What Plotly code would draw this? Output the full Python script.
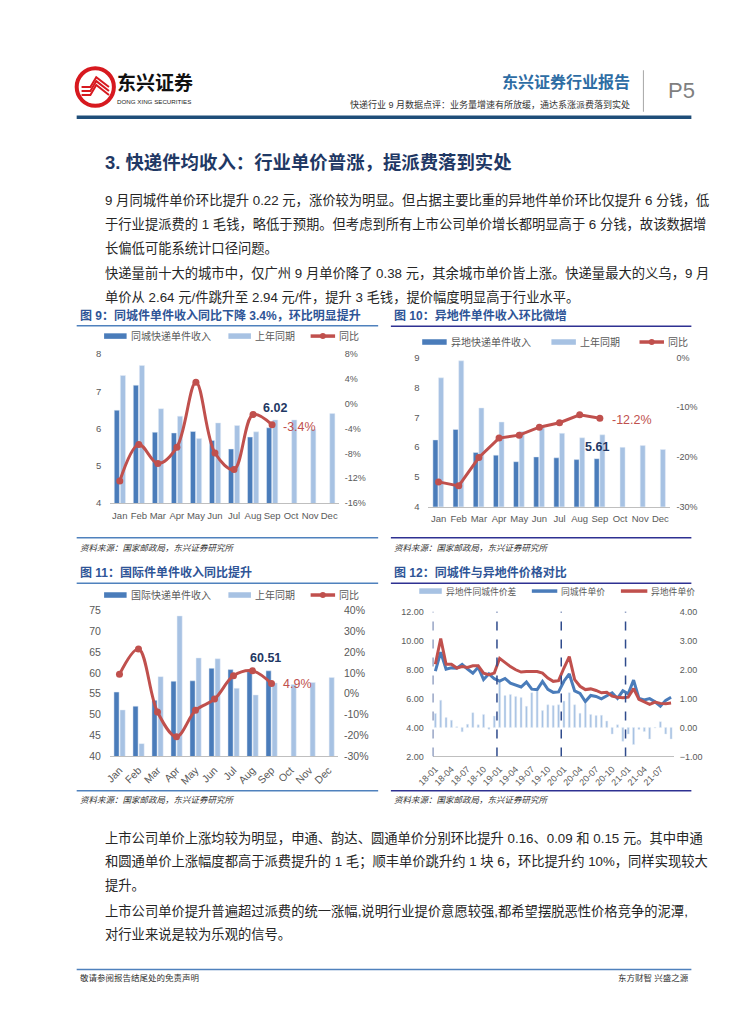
import plotly.graph_objects as go

W, H = 755, 1024


def X(p):
    return p / W


def Y(p):
    return 1 - p / H


# ---------------- data ----------------
months = ["Jan", "Feb", "Mar", "Apr", "May", "Jun", "Jul", "Aug", "Sep", "Oct", "Nov", "Dec"]
months_cur = months[:9]

# 图9 同城件
city_cur = [6.49, 7.16, 5.90, 5.88, 5.92, 5.68, 5.45, 5.77, 6.02]
city_prev = [7.42, 7.69, 6.53, 6.33, 5.73, 6.15, 6.08, 5.91, 6.23, 6.23, 5.98, 6.40]
city_yoy = [-12.45, -6.57, -9.64, -7.0, 3.44, -7.95, -10.6, -1.75, -3.4]

# 图10 异地件
inter_cur = [6.24, 6.59, 5.82, 5.73, 5.51, 5.67, 5.64, 5.58, 5.61]
inter_prev = [8.32, 8.89, 7.31, 6.84, 6.52, 6.65, 6.46, 6.31, 6.41, 5.99, 6.05, 5.92]
inter_yoy = [-25.0, -25.8, -20.1, -16.2, -15.6, -14.0, -13.1, -11.5, -12.2]

# 图11 国际件
intl_cur = [55.4, 52.0, 53.4, 58.0, 58.1, 61.1, 60.8, 60.3, 60.51]
intl_prev = [51.1, 43.0, 59.1, 73.7, 63.6, 63.4, 56.3, 54.7, 57.6, 57.2, 57.7, 58.9]
intl_yoy = [9.3, 21.5, -8.8, -20.7, -8.0, -2.6, 8.6, 11.0, 4.9]

# 图12 同城件与异地件价格对比
ym_labels = [f"{yy}-{mm:02d}" for yy in (18, 19, 20, 21) for mm in range(1, 13)][:45]
year_starts = ["18-01", "19-01", "20-01", "21-01"]
spread = [0.48, 0.94, 0.34, 0.25, 0.02, -0.15, 0.11, 0.51, 0.09, 0.45, -0.06, 0.39,
          1.57, 1.10, 1.14, 1.07, 1.03, 0.73, 1.20, 1.25, 0.58, 0.78, 0.76, 0.78,
          0.91, 1.20, 0.78, 0.49, 0.82, 0.45, 0.41, 0.42, 0.22, -0.23, 0.09, -0.48,
          -0.23, -0.59, -0.07, -0.14, -0.40, -0.02, 0.20, -0.23, -0.40]
same_city_price = [7.88, 9.20, 8.02, 8.11, 8.08, 8.35, 8.03, 7.74, 8.16, 7.30, 7.70, 7.36,
                   7.20, 7.38, 7.06, 6.91, 6.79, 7.13, 6.64, 6.61, 7.17, 6.63, 6.42, 6.45,
                   7.19, 7.69, 6.52, 6.35, 5.79, 6.21, 6.14, 5.97, 6.21, 6.39, 6.00, 6.53,
                   6.32, 7.27, 6.00, 5.89, 5.99, 5.77, 5.46, 5.87, 6.08]
inter_city_price = [8.36, 10.14, 8.36, 8.36, 8.10, 8.20, 8.14, 8.25, 8.25, 7.75, 7.64, 7.75,
                    8.77, 8.48, 8.20, 7.98, 7.82, 7.86, 7.84, 7.86, 7.75, 7.41, 7.18, 7.23,
                    8.10, 8.89, 7.30, 6.84, 6.61, 6.66, 6.55, 6.39, 6.43, 6.16, 6.09, 6.05,
                    6.09, 6.68, 5.93, 5.75, 5.59, 5.75, 5.66, 5.64, 5.68]

# ---------------- styles ----------------
DARK = "#4A7CBA"
LIGHT = "#A7C2E3"
RED = "#C0504D"
NAVY = "#1F3864"
TITLE = "#2F5597"
GRAY = "#595959"
LAT = "Liberation Sans, Arial, sans-serif"
CJK = "Liberation Sans, Noto Sans CJK SC, sans-serif"

fig = go.Figure()

# chart 9
fig.add_bar(x=months_cur, y=city_cur, xaxis="x", yaxis="y", marker_color=DARK, width=0.27, offset=-0.29)
fig.add_bar(x=months, y=city_prev, xaxis="x", yaxis="y", marker_color=LIGHT, width=0.27, offset=0.03)
fig.add_scatter(x=months_cur, y=city_yoy, xaxis="x", yaxis="y2", mode="lines+markers",
                line=dict(color=RED, width=3, shape="spline", smoothing=1.0),
                marker=dict(size=7, color=RED))
# chart 10
fig.add_bar(x=months_cur, y=inter_cur, xaxis="x2", yaxis="y3", marker_color=DARK, width=0.25, offset=-0.28)
fig.add_bar(x=months, y=inter_prev, xaxis="x2", yaxis="y3", marker_color=LIGHT, width=0.25, offset=0.0)
fig.add_scatter(x=months_cur, y=inter_yoy, xaxis="x2", yaxis="y4", mode="lines+markers",
                line=dict(color=RED, width=3), marker=dict(size=7, color=RED))
# chart 11
fig.add_bar(x=months_cur, y=intl_cur, xaxis="x3", yaxis="y5", marker_color=DARK, width=0.27, offset=-0.29)
fig.add_bar(x=months, y=intl_prev, xaxis="x3", yaxis="y5", marker_color=LIGHT, width=0.27, offset=0.03)
fig.add_scatter(x=months_cur, y=intl_yoy, xaxis="x3", yaxis="y6", mode="lines+markers",
                line=dict(color=RED, width=3, shape="spline", smoothing=1.0),
                marker=dict(size=7, color=RED))
# chart 12
fig.add_bar(x=ym_labels, y=spread, xaxis="x4", yaxis="y7", marker_color=LIGHT, width=0.38, offset=-0.19)
fig.add_scatter(x=ym_labels, y=same_city_price, xaxis="x4", yaxis="y8", mode="lines",
                line=dict(color=DARK, width=3))
fig.add_scatter(x=ym_labels, y=inter_city_price, xaxis="x4", yaxis="y8", mode="lines",
                line=dict(color=RED, width=3))


def xcat(domain, anchor, cats, size, angle=0, standoff=2):
    return dict(domain=domain, anchor=anchor, type="category", categoryorder="array",
                categoryarray=cats, range=[-0.5, len(cats) - 0.5], showline=True,
                linecolor="#BFBFBF", linewidth=1, showgrid=False, zeroline=False, ticks="",
                tickangle=angle, tickfont=dict(family=LAT, size=size, color=GRAY),
                ticklabelstandoff=standoff, fixedrange=True)


def yax(domain, anchor, rng, size, side="left", overlay=None, standoff=8, **kw):
    d = dict(domain=domain, anchor=anchor, range=rng, side=side, showgrid=False,
             zeroline=False, showline=False, ticks="",
             tickfont=dict(family=LAT, size=size, color=GRAY),
             ticklabelstandoff=standoff, fixedrange=True)
    if overlay:
        d["overlaying"] = overlay
    d.update(kw)
    return d


pct = lambda vals: dict(tickmode="array", tickvals=vals, ticktext=[f"{v}%" for v in vals])

d9x, d9y = [X(96.3), X(329.7)], [Y(503), Y(352)]
d10x, d10y = [X(421.4), X(668.6)], [Y(506.7), Y(355.7)]
d11x, d11y = [X(96), X(329)], [Y(759), Y(611.7)]
d12x, d12y = [X(425.7), X(672)], [Y(759.3), Y(612.7)]

fig.update_layout(
    width=W, height=H, autosize=False, margin=dict(l=0, r=0, t=0, b=0),
    paper_bgcolor="white", plot_bgcolor="white", showlegend=False, barmode="overlay",
    xaxis=xcat(d9x, "y", months, 9.5, standoff=3),
    yaxis=yax(d9y, "x", [4, 8], 9.5, dtick=1, tick0=4, standoff=8),
    yaxis2=yax(d9y, "x", [-16, 8], 9, side="right", overlay="y", standoff=5,
               **pct([-16, -12, -8, -4, 0, 4, 8])),
    xaxis2=xcat(d10x, "y3", months, 9.5, standoff=3),
    yaxis3=yax(d10y, "x2", [4, 9], 9.5, dtick=1, tick0=4, standoff=8),
    yaxis4=yax(d10y, "x2", [-30, 0], 9, side="right", overlay="y3", standoff=5,
               **pct([-30, -20, -10, 0])),
    xaxis3=xcat(d11x, "y5", months, 10.5, angle=-45, standoff=3),
    yaxis5=yax(d11y, "x3", [40, 75], 10.5, dtick=5, tick0=40, standoff=8),
    yaxis6=yax(d11y, "x3", [-30, 40], 10.5, side="right", overlay="y5", standoff=5,
               **pct([-30, -20, -10, 0, 10, 20, 30, 40])),
    xaxis4=dict(xcat(d12x, "y7", ym_labels, 9, angle=-45, standoff=3),
                tickmode="array", tickvals=ym_labels[::3], ticktext=ym_labels[::3]),
    yaxis7=yax(d12y, "x4", [-1, 4], 9, side="right", standoff=5, dtick=1, tick0=-1,
               tickformat=".2f"),
    yaxis8=yax(d12y, "x4", [2, 12], 9, side="left", overlay="y7", standoff=8, dtick=2,
               tick0=2, tickformat=".2f"),
)

shapes = []
anns = []


def hline(x0, x1, y, color, width=1, dash="solid"):
    shapes.append(dict(type="line", xref="paper", yref="paper", x0=X(x0), x1=X(x1),
                       y0=Y(y), y1=Y(y), line=dict(color=color, width=width, dash=dash)))


def vline(x, y0, y1, color, width=1):
    shapes.append(dict(type="line", xref="paper", yref="paper", x0=X(x), x1=X(x),
                       y0=Y(y0), y1=Y(y1), line=dict(color=color, width=width)))


def text(px, py, s, size, color="#262626", anchor="left", family=CJK):
    anns.append(dict(xref="paper", yref="paper", x=X(px), y=Y(py), text=s, showarrow=False,
                     xanchor=anchor, yanchor="middle",
                     font=dict(size=size, color=color, family=family)))


def leg_bar(x0, x1, y, color, label, size=10):
    shapes.append(dict(type="rect", xref="paper", yref="paper", x0=X(x0), x1=X(x1),
                       y0=Y(y + 2.8), y1=Y(y - 2.8), line=dict(width=0), fillcolor=color))
    text(x1 + 2, y, label, size, GRAY)


def leg_line(x0, x1, y, color, label, marker=True, size=10):
    hline(x0, x1, y, color, 3.5)
    if marker:
        cx = (x0 + x1) / 2
        shapes.append(dict(type="circle", xref="paper", yref="paper", x0=X(cx - 3),
                           x1=X(cx + 3), y0=Y(y + 3), y1=Y(y - 3), line=dict(width=0),
                           fillcolor=color))
    text(x1 + 2, y, label, size, GRAY)


# ---------- header ----------
LOGO_RED = "#D7191F"
shapes.append(dict(type="circle", xref="paper", yref="paper", x0=X(62), x1=X(100),
                   y0=Y(101), y1=Y(63), line=dict(color=LOGO_RED, width=4), fillcolor="white"))
for k in range(3):
    off = k * 4
    shapes.append(dict(type="path", xref="paper", yref="paper",
                       path=f"M {X(67)},{Y(90 - off)} L {X(76)},{Y(90 - off)} L {X(82)},{Y(80 - off)} "
                            f"L {X(95)},{Y(90 - off)}",
                       line=dict(color=LOGO_RED, width=2)))
text(101, 78, "<b>东兴证券</b>", 19, "#111111")
text(101, 97, "DONG XING SECURITIES", 6.2, "#222222", family=LAT)
text(629, 77, "<b>东兴证券行业报告</b>", 16, "#2E6DA4", anchor="right")
text(629, 100, "快递行业 9 月数据点评：业务量增速有所放缓，通达系涨派费落到实处", 9,
     "#333333", anchor="right")
vline(641, 65, 107, "#A6A6A6", 1)
text(680, 85, "P5", 22, "#7F7F7F", anchor="center", family=LAT)
hline(62, 690, 112.5, "#1F4E79", 3.5)

# ---------- section heading and body ----------
text(89, 158, "<b>3. 快递件均收入：行业单价普涨，提派费落到实处</b>", 18.4, NAVY)

BODY = 13.3
body_lines = [
    (197, "9 月同城件单价环比提升 0.22 元，涨价较为明显。但占据主要比重的异地件单价环比仅提升 6 分钱，低"),
    (221, "于行业提派费的 1 毛钱，略低于预期。但考虑到所有上市公司单价增长都明显高于 6 分钱，故该数据增"),
    (245, "长偏低可能系统计口径问题。"),
    (270, "快递量前十大的城市中，仅广州 9 月单价降了 0.38 元，其余城市单价皆上涨。快递量最大的义乌，9 月"),
    (294, "单价从 2.64 元/件跳升至 2.94 元/件，提升 3 毛钱，提价幅度明显高于行业水平。"),
    (842, "上市公司单价上涨均较为明显，申通、韵达、圆通单价分别环比提升 0.16、0.09 和 0.15 元。其中申通"),
    (866, "和圆通单价上涨幅度都高于派费提升的 1 毛；顺丰单价跳升约 1 块 6，环比提升约 10%，同样实现较大"),
    (890, "提升。"),
    (916, "上市公司单价提升普遍超过派费的统一涨幅,说明行业提价意愿较强,都希望摆脱恶性价格竞争的泥潭,"),
    (940, "对行业来说是较为乐观的信号。"),
]
for yy, s in body_lines:
    text(89, yy, s, BODY)

# ---------- chart frames ----------
SRC = "<i>资料来源：国家邮政局，东兴证券研究所</i>"
LBLUE = "#4F81BD"
INDIGO = "#2E3192"

text(63, 313, "<b>图 9：同城件单件收入同比下降 3.4%，环比明显提升</b>", 12, TITLE)
hline(62, 370, 323.5, LBLUE, 1.5)
hline(62, 370, 538, LBLUE, 1.5)
text(63, 548, SRC, 8.5, "#333333")

text(384, 313, "<b>图 10：异地件单件收入环比微增</b>", 12, TITLE)
hline(383, 690, 324, INDIGO, 1.5)
hline(383, 690, 538, INDIGO, 1.5)
text(384, 548, SRC, 8.5, "#333333")

text(63, 573, "<b>图 11：国际件单件收入同比提升</b>", 12, TITLE)
hline(62, 370, 584, LBLUE, 1.5)
hline(62, 370, 794, LBLUE, 1.5)
text(63, 803, SRC, 8.5, "#333333")

text(384, 573, "<b>图 12：同城件与异地件价格对比</b>", 12, TITLE)
hline(383, 690, 584, INDIGO, 1.5)
hline(383, 690, 794, INDIGO, 1.5)
text(384, 803, SRC, 8.5, "#333333")

# legends
leg_bar(90, 113, 334, DARK, "同城快递单件收入")
leg_bar(217, 240, 334, LIGHT, "上年同期")
leg_line(301, 326, 334, RED, "同比")

leg_bar(415, 440, 340, DARK, "异地快递单件收入")
leg_bar(547, 572, 340, LIGHT, "上年同期")
leg_line(637, 662, 340, RED, "同比")

leg_bar(90, 113, 596, DARK, "国际快递单件收入")
leg_bar(217, 240, 596, LIGHT, "上年同期")
leg_line(301, 326, 596, RED, "同比")

leg_bar(412, 435, 592, LIGHT, "异地件同城件价差", size=8.8)
leg_line(527, 553, 592, DARK, "同城件单价", marker=False, size=8.8)
leg_line(618, 645, 592, RED, "异地件单价", marker=False, size=8.8)

# year separators for chart 12
for ys in year_starts:
    xi = ym_labels.index(ys) - 0.5
    shapes.append(dict(type="line", xref="x4", yref="y8", x0=xi, x1=xi, y0=2, y1=12,
                       line=dict(color="#2F4B8C", width=1.5, dash="dash")))

# data labels
last = len(months_cur) - 1


def dlabel(xref, yref, yv, s, color, xs, ys):
    anns.append(dict(xref=xref, yref=yref, x=last, y=yv, text=s, showarrow=False,
                     xanchor="center", yanchor="middle", xshift=xs, yshift=ys,
                     font=dict(family=LAT, size=12.5, color=color)))


dlabel("x", "y", city_cur[last], f"<b>{city_cur[last]:.2f}</b>", NAVY, 3, 20)
dlabel("x", "y2", city_yoy[last], f"{city_yoy[last]:.1f}%", RED, 27, -2)
dlabel("x2", "y3", inter_cur[last], f"<b>{inter_cur[last]:.2f}</b>", NAVY, -3, 12)
dlabel("x2", "y4", inter_yoy[last], f"{inter_yoy[last]:.1f}%", RED, 32, -2)
dlabel("x3", "y5", intl_cur[last], f"<b>{intl_cur[last]:.2f}</b>", NAVY, -6, 13)
dlabel("x3", "y6", intl_yoy[last], f"{intl_yoy[last]:.1f}%", RED, 26, 0)

# footer
hline(62, 690, 975, LBLUE, 1.5)
text(63, 984, "敬请参阅报告结尾处的免责声明", 8.5, "#333333")
text(690, 984, "东方财智 兴盛之源", 8.5, "#333333", anchor="right")

fig.update_layout(shapes=shapes, annotations=anns)
fig.write_html(
    "out.html", config={"displayModeBar": False},
    post_script="document.body.style.margin='0px';document.body.style.padding='0px';"
                "document.documentElement.style.overflow='hidden';",
)
